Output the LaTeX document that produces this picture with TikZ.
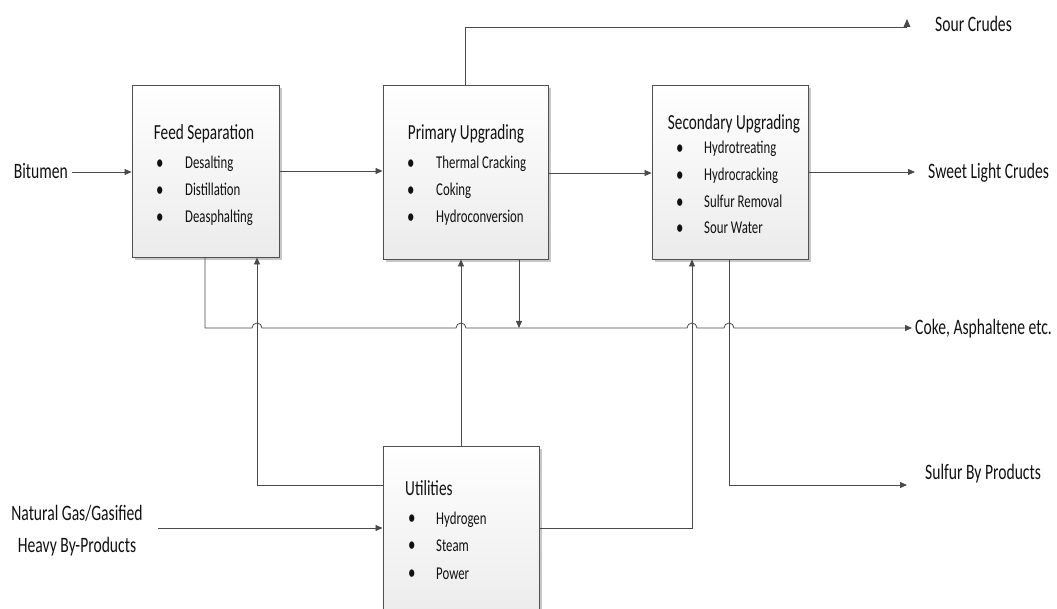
\documentclass[tikz,border=0pt]{standalone}
\usepackage{fontspec}
\setmainfont{Carlito}[FakeStretch=0.71]
\usetikzlibrary{arrows.meta,shadows,calc}

\definecolor{boxline}{HTML}{505050}
\definecolor{boxbottom}{HTML}{EBEBEB}
\definecolor{flow}{HTML}{4A4A4A}
\definecolor{txt}{HTML}{111111}

% bullet followed by item text at a fixed indent
\newcommand{\bulitem}[2]{\makebox[#1][l]{\raisebox{-0.3pt}{\fontsize{21}{21}\selectfont\textbullet}}#2}

\begin{document}
\begin{tikzpicture}[x=1pt,y=-1pt,
  proc/.style={draw=boxline, line width=0.9pt, top color=white, bottom color=boxbottom,
    drop shadow={shadow xshift=3pt, shadow yshift=-3pt, fill=black!22, opacity=1},
    inner sep=0pt},
  flowline/.style={draw=flow, line width=0.8pt},
  tip/.style={-{Triangle[length=7pt,width=6pt]}},
  lbl/.style={font=\fontsize{22}{27}\selectfont, text=txt, inner sep=0pt},
  ttl/.style={font=\fontsize{21.5}{26}\selectfont, text=txt, inner sep=0pt, anchor=base},
  itm/.style={font=\fontsize{18}{21}\selectfont, text=txt, inner sep=0pt, anchor=base west},
]
\useasboundingbox (0,0) rectangle (1057,609);

% process blocks
\node[proc, minimum width=147pt, minimum height=172pt] (feed) at (205.5,171) {};
\node[proc, minimum width=165pt, minimum height=174pt] (prim) at (465.5,172) {};
\node[proc, minimum width=156pt, minimum height=174pt] (sec)  at (730,172) {};
\node[proc, minimum width=156pt, minimum height=174pt] (util) at (461,533) {};

% block contents (y values are baselines)
\node[ttl] (feedT) at (204,140) {Feed Separation};
\node[itm] (feed1) at (156,169) {\bulitem{29pt}{Desalting}};
\node[itm] (feed2) at (156,196) {\bulitem{29pt}{Distillation}};
\node[itm] (feed3) at (156,223) {\bulitem{29pt}{Deasphalting}};

\node[ttl] (primT) at (466,140) {Primary Upgrading};
\node[itm] (prim1) at (407,169) {\bulitem{29pt}{Thermal Cracking}};
\node[itm] (prim2) at (407,196) {\bulitem{29pt}{Coking}};
\node[itm] (prim3) at (407,223) {\bulitem{29pt}{Hydroconversion}};

\node[ttl] (secT) at (734,130) {Secondary Upgrading};
\node[itm] (sec1) at (676,154) {\bulitem{28pt}{Hydrotreating}};
\node[itm] (sec2) at (676,181) {\bulitem{28pt}{Hydrocracking}};
\node[itm] (sec3) at (676,208) {\bulitem{28pt}{Sulfur Removal}};
\node[itm] (sec4) at (676,234) {\bulitem{28pt}{Sour Water}};

\node[ttl, anchor=base west] (utilT) at (405,495) {Utilities};
\node[itm] (util1) at (408,524) {\bulitem{28pt}{Hydrogen}};
\node[itm] (util2) at (408,551) {\bulitem{28pt}{Steam}};
\node[itm] (util3) at (408,579) {\bulitem{28pt}{Power}};

% stream labels
\node[lbl, anchor=base east] (bit) at (68,179) {Bitumen};
\node[lbl, align=center] (gas) at (77,531) {Natural Gas/Gasified\\[5pt]Heavy By-Products};
\node[lbl, anchor=base west] (sour) at (935,32) {Sour Crudes};
\node[lbl, anchor=base west] (sweet) at (928,179) {Sweet Light Crudes};
\node[lbl, anchor=base west] (coke) at (915,335) {Coke, Asphaltene etc.};
\node[lbl, anchor=base west] (sulf) at (925,479) {Sulfur By Products};

% free ends of outgoing streams
\coordinate (sourEnd) at (907,27);
\coordinate (sweetEnd) at (915,172);
\coordinate (cokeEnd) at (912,328);
\coordinate (sulfEnd) at (907,485);
\coordinate (bitStart) at (72,172);

% main train
\draw[flowline, tip] (bitStart) -- (feed.west |- bitStart);
\draw[flowline, tip] (feed.east |- 0,171) -- (prim.west |- 0,171);
\draw[flowline, tip] (prim.east |- 0,173) -- (sec.west |- 0,173);
\draw[flowline, tip] (sec.east |- sweetEnd) -- (sweetEnd);

% sour crudes off the top of primary upgrading
\draw[flowline] (prim.north) |- (sourEnd);
\fill[flow] ($(sourEnd)+(-3.5,0)$) -- ($(sourEnd)+(3.5,0)$) -- ($(sourEnd)+(0,-8)$) -- cycle;

% coke / asphaltene header with hops over the utility risers
\draw[flowline, tip] (feed.south -| 205,0) -- (205,328)
  -- (252,328) arc[start angle=180, end angle=0, radius=5pt]
  -- (456,328) arc[start angle=180, end angle=0, radius=5pt]
  -- (687,328) arc[start angle=180, end angle=0, radius=5pt]
  -- (724,328) arc[start angle=180, end angle=0, radius=5pt]
  -- (cokeEnd);
\draw[flowline, tip] (prim.south -| 519,0) -- (519,328);

% utilities distribution
\draw[flowline, tip] (util.west |- 0,485) -| (feed.south -| 257,0);
\draw[flowline, tip] (util.north) -- (prim.south -| util.north);
\draw[flowline, tip] (util.east |- 0,528) -| (sec.south -| 692,0);
\draw[flowline, tip] (158,528) coordinate (gasStart) -- (util.west |- gasStart);

% sulfur by-products
\draw[flowline, tip] (sec.south -| 729,0) |- (sulfEnd);
\end{tikzpicture}
\end{document}
